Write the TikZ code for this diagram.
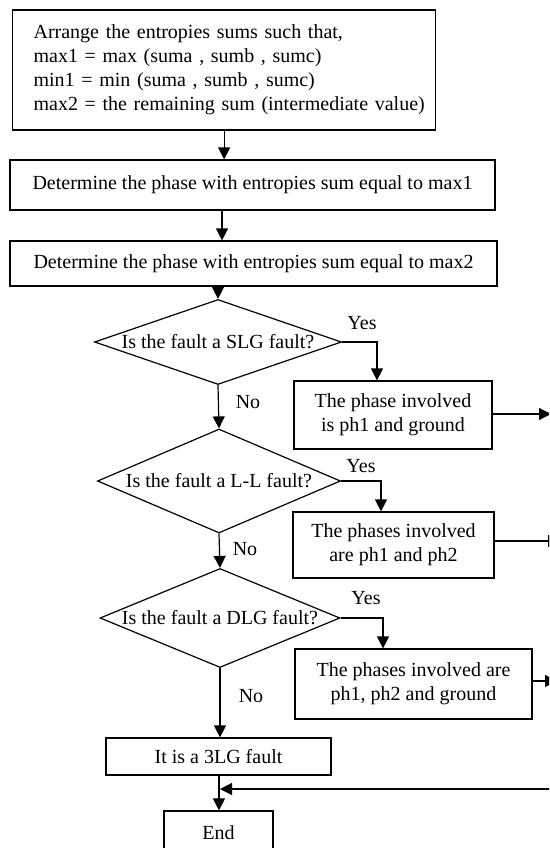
\documentclass[tikz,border=0pt]{standalone}
\usepackage{fontspec}
\setmainfont{Liberation Serif}
\usetikzlibrary{shapes.geometric,arrows.meta}
\begin{document}
\begin{tikzpicture}[x=1pt,y=-1pt,
  every node/.style={font=\fontsize{20}{24}\selectfont},
  box/.style={draw,line width=1.2pt,inner sep=0pt,align=center},
  dia/.style={draw,line width=1.2pt,diamond,inner sep=0pt,aspect=1},
  lbl/.style={inner sep=0pt},
  arr/.style={line width=1.2pt,-{Triangle[length=12pt,width=12pt]}},
  ln/.style={line width=1.2pt}]
\useasboundingbox (0,0) rectangle (549,848);
\clip (0,0) rectangle (549,848);
\fill[white] (0,0) rectangle (549,848);

\node[box,anchor=west,align=left,text width=381pt,inner xsep=21pt,minimum height=120pt] (b1) at (12,70)
  {\mbox{Arrange the entropies sums such that,}\\
   \mbox{max1 = max (suma , sumb , sumc)}\\
   \mbox{min1 = min (suma , sumb , sumc)}\\
   \mbox{max2 = the remaining sum (intermediate value)}};
\node[box,minimum width=485pt,minimum height=50pt] (b2) at (252.5,185)
  {Determine the phase with entropies sum equal to max1};
\node[box,minimum width=487pt,minimum height=45pt] (b3) at (253.5,263.5)
  {Determine the phase with entropies sum equal to max2};

\node[dia,minimum width=247pt,minimum height=85pt] (d1) at (218,342)
  {\makebox[0pt][c]{Is the fault a SLG fault?}};
\node[dia,minimum width=243pt,minimum height=104pt] (d2) at (219,481)
  {\makebox[0pt][c]{Is the fault a L-L fault?}};
\node[dia,minimum width=240pt,minimum height=99pt] (d3) at (220,618)
  {\makebox[0pt][c]{Is the fault a DLG fault?}};

\node[box,minimum width=198pt,minimum height=68pt] (b4) at (393,415)
  {The phase involved\\is ph1 and ground};
\node[box,minimum width=201pt,minimum height=66pt] (b5) at (393.5,545)
  {The phases involved\\are ph1 and ph2};
\node[box,minimum width=237pt,minimum height=70pt] (b6) at (413.5,684)
  {The phases involved are\\ph1, ph2 and ground};

\node[box,minimum width=225pt,minimum height=37pt] (b7) at (218.5,756.5)
  {It is a 3LG fault};
\node[box,minimum width=109pt,minimum height=44pt] (e) at (218.5,833)
  {End};

\node[lbl] (y1) at (362,323) {Yes};
\node[lbl] (y2) at (361,466) {Yes};
\node[lbl] (y3) at (366,598) {Yes};
\node[lbl] (n1) at (248,402) {No};
\node[lbl] (n2) at (245,549) {No};
\node[lbl] (n3) at (251,696) {No};

% main flow
\draw[arr] (b1.south) -- (b1.south |- b2.north);
\draw[arr] (b2.south -| 222,0) -- (b3.north -| 222,0);
\draw[arr] (b3.south -| d1.north) -- (d1.north);
\draw[arr] (d1.south) -- (d2.north);
\draw[arr] (d2.south) -- (d3.north);
\draw[arr] (d3.south) -- (d3.south |- b7.north);
\draw[arr] (b7.south -| 219,0) -- (e.north -| 219,0);

% yes branches
\draw[arr] (d1.east) -| (377,0 |- b4.north);
\draw[arr] (d2.east) -| (381,0 |- b5.north);
\draw[arr] (d3.east) -| (383,0 |- b6.north);

% exits to the right
\coordinate (o1) at (551,414);
\coordinate (o2) at (560,541);
\coordinate (o3) at (557,681);
\draw[arr] (b4.east |- o1) -- (o1);
\draw[arr] (b5.east |- o2) -- (o2);
\draw[arr] (b6.east |- o3) -- (o3);

% return line
\coordinate (r1) at (560,789);
\coordinate (r2) at (220,789);
\draw[arr] (r1) -- (r2);
\end{tikzpicture}
\end{document}
